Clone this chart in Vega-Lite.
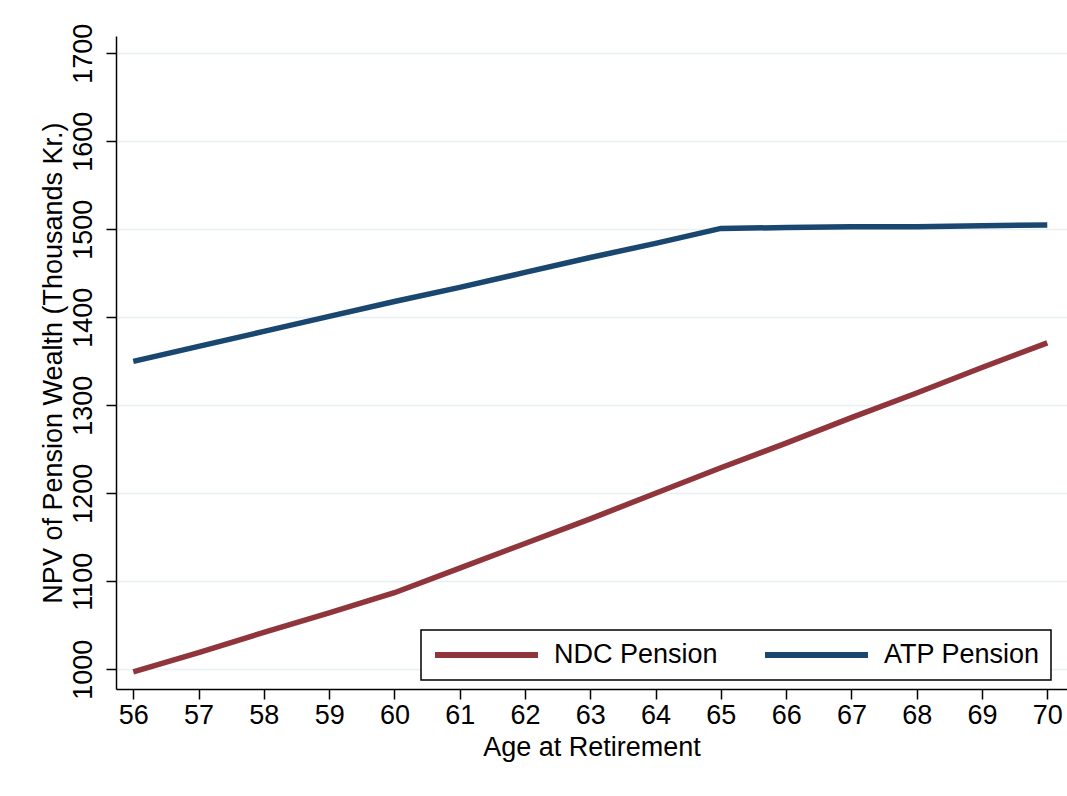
{
  "$schema": "https://vega.github.io/schema/vega-lite/v6.json",
  "width": 951,
  "height": 653,
  "autosize": "none",
  "padding": {"left": 116, "top": 36, "right": 0, "bottom": 107},
  "background": "white",
  "config": {"view": {"stroke": null}, "font": "Liberation Sans"},
  "data": {
    "values": [
      {"age": 56, "series": "NDC Pension", "npv": 997},
      {"age": 57, "series": "NDC Pension", "npv": 1019},
      {"age": 58, "series": "NDC Pension", "npv": 1042},
      {"age": 59, "series": "NDC Pension", "npv": 1064},
      {"age": 60, "series": "NDC Pension", "npv": 1087},
      {"age": 61, "series": "NDC Pension", "npv": 1115},
      {"age": 62, "series": "NDC Pension", "npv": 1143},
      {"age": 63, "series": "NDC Pension", "npv": 1171},
      {"age": 64, "series": "NDC Pension", "npv": 1200},
      {"age": 65, "series": "NDC Pension", "npv": 1229},
      {"age": 66, "series": "NDC Pension", "npv": 1257},
      {"age": 67, "series": "NDC Pension", "npv": 1286},
      {"age": 68, "series": "NDC Pension", "npv": 1314},
      {"age": 69, "series": "NDC Pension", "npv": 1343},
      {"age": 70, "series": "NDC Pension", "npv": 1371},
      {"age": 56, "series": "ATP Pension", "npv": 1350},
      {"age": 57, "series": "ATP Pension", "npv": 1367},
      {"age": 58, "series": "ATP Pension", "npv": 1384},
      {"age": 59, "series": "ATP Pension", "npv": 1401},
      {"age": 60, "series": "ATP Pension", "npv": 1418},
      {"age": 61, "series": "ATP Pension", "npv": 1434},
      {"age": 62, "series": "ATP Pension", "npv": 1451},
      {"age": 63, "series": "ATP Pension", "npv": 1468},
      {"age": 64, "series": "ATP Pension", "npv": 1484},
      {"age": 65, "series": "ATP Pension", "npv": 1501},
      {"age": 66, "series": "ATP Pension", "npv": 1502},
      {"age": 67, "series": "ATP Pension", "npv": 1503},
      {"age": 68, "series": "ATP Pension", "npv": 1503},
      {"age": 69, "series": "ATP Pension", "npv": 1504},
      {"age": 70, "series": "ATP Pension", "npv": 1505}
    ]
  },
  "mark": {"type": "line", "strokeWidth": 5.5, "strokeCap": "butt", "strokeJoin": "miter"},
  "encoding": {
    "x": {
      "field": "age",
      "type": "quantitative",
      "scale": {"domain": [55.735, 70.302], "nice": false, "zero": false},
      "axis": {
        "title": "Age at Retirement",
        "values": [56, 57, 58, 59, 60, 61, 62, 63, 64, 65, 66, 67, 68, 69, 70],
        "format": "d",
        "grid": false,
        "domainColor": "black",
        "domainWidth": 1.5,
        "tickColor": "black",
        "tickWidth": 1.5,
        "tickSize": 10,
        "labelFontSize": 27,
        "labelColor": "black",
        "labelPadding": 3,
        "labelFlush": false,
        "labelOverlap": false,
        "titleFontSize": 27,
        "titleFontWeight": "normal",
        "titleColor": "black",
        "titleBaseline": "alphabetic",
        "titleY": 66
      }
    },
    "y": {
      "field": "npv",
      "type": "quantitative",
      "scale": {"domain": [977.6, 1719.7], "nice": false, "zero": false},
      "axis": {
        "title": "NPV of Pension Wealth (Thousands Kr.)",
        "values": [1000, 1100, 1200, 1300, 1400, 1500, 1600, 1700],
        "format": "d",
        "grid": true,
        "gridColor": "#e9f0f2",
        "gridWidth": 1.5,
        "domainColor": "black",
        "domainWidth": 1.5,
        "tickColor": "black",
        "tickWidth": 1.5,
        "tickSize": 10,
        "labelFontSize": 27,
        "labelColor": "black",
        "labelAngle": 270,
        "labelAlign": "center",
        "labelBaseline": "alphabetic",
        "labelPadding": 14.7,
        "labelFlush": false,
        "labelOverlap": false,
        "titleFontSize": 27,
        "titleFontWeight": "normal",
        "titleColor": "black",
        "titleAngle": 270,
        "titleAlign": "center",
        "titleBaseline": "alphabetic",
        "titleX": -55,
        "titleY": 326.5
      }
    },
    "color": {
      "field": "series",
      "type": "nominal",
      "scale": {"domain": ["NDC Pension", "ATP Pension"], "range": ["#90353b", "#1a476f"]},
      "legend": {
        "title": null,
        "orient": "none",
        "legendX": 305,
        "legendY": 594,
        "direction": "horizontal",
        "symbolType": "stroke",
        "symbolSize": 10600,
        "symbolStrokeWidth": 6,
        "clipHeight": 28,
        "labelFontSize": 27,
        "labelLimit": 400,
        "labelColor": "black",
        "labelOffset": 13,
        "columnPadding": 44,
        "padding": 11,
        "strokeColor": "black",
        "fillColor": "white",
        "encode": {"legend": {"update": {"strokeWidth": {"value": 1.5}}}}
      }
    }
  }
}
